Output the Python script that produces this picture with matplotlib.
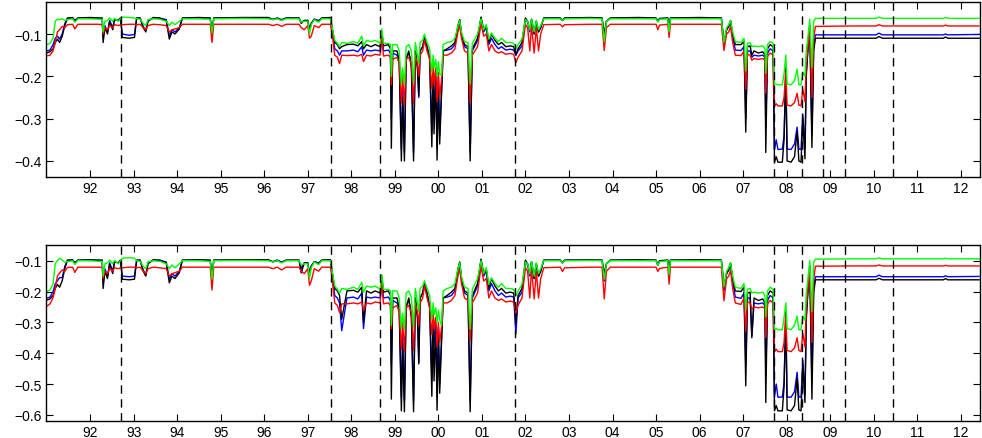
import matplotlib
matplotlib.use('Agg')
import matplotlib.pyplot as plt
import numpy as np

plt.rcParams['font.family'] = ['Liberation Sans', 'DejaVu Sans']

# time axis (decimal years), shared by every series
dates = [
    1991.00, 1991.08, 1991.15, 1991.20, 1991.25, 1991.30, 1991.36, 1991.42, 1991.48, 1991.60, 1991.65, 1991.72,
    1992.00, 1992.20, 1992.28, 1992.30, 1992.34, 1992.40, 1992.45, 1992.52, 1992.56, 1992.65, 1992.70,
    1992.74, 1992.90, 1993.02, 1993.07,
    1993.15, 1993.22, 1993.28, 1993.33, 1993.45, 1993.60, 1993.75, 1993.82, 1993.88, 1993.95,
    1994.05, 1994.12, 1994.50, 1994.76, 1994.80, 1994.84,
    1995.50, 1996.10, 1996.20, 1996.30, 1996.40, 1996.50, 1996.80, 1996.85, 1996.92,
    1997.00, 1997.04, 1997.08, 1997.15, 1997.25, 1997.32, 1997.52,
    1997.56, 1997.62, 1997.68, 1997.73, 1997.78, 1997.90, 1998.05, 1998.15, 1998.24, 1998.28, 1998.35,
    1998.45, 1998.55, 1998.66, 1998.70, 1998.74, 1998.85,
    1998.90, 1998.92, 1998.95, 1999.05, 1999.10, 1999.15, 1999.18, 1999.22, 1999.26, 1999.32, 1999.38,
    1999.43, 1999.47, 1999.52, 1999.55, 1999.58, 1999.64, 1999.68, 1999.74, 1999.80, 1999.85, 1999.88,
    1999.90, 1999.94, 1999.97,
    2000.00, 2000.03, 2000.07, 2000.11, 2000.20, 2000.30, 2000.38, 2000.45, 2000.49, 2000.53, 2000.60,
    2000.68, 2000.73, 2000.78, 2000.90, 2000.98,
    2001.04, 2001.10, 2001.16, 2001.22, 2001.30, 2001.38, 2001.45, 2001.55, 2001.65, 2001.73, 2001.78,
    2001.83, 2001.92,
    2002.00, 2002.05, 2002.10, 2002.14, 2002.20, 2002.25, 2002.30, 2002.35, 2002.42,
    2002.80, 2002.85, 2002.90, 2003.50, 2003.76, 2003.81, 2003.86, 2003.95, 2004.60, 2005.00, 2005.04,
    2005.08, 2005.27, 2005.30, 2005.33, 2006.00, 2006.50,
    2006.56, 2006.62, 2006.67, 2006.71, 2006.76, 2006.82, 2006.95,
    2007.02, 2007.06, 2007.10, 2007.16, 2007.20, 2007.25, 2007.35, 2007.45, 2007.50, 2007.52, 2007.56,
    2007.62, 2007.69, 2007.72, 2007.76, 2007.80, 2007.90, 2007.94, 2007.98,
    2008.01, 2008.10, 2008.18, 2008.24, 2008.28, 2008.33, 2008.37, 2008.42, 2008.45, 2008.48, 2008.53,
    2008.58, 2008.62, 2008.66,
    2009.50, 2010.05, 2010.12, 2010.20, 2011.60, 2011.65, 2011.70, 2012.42,
]

# top panel
top_black = [
    -0.145, -0.142, -0.135, -0.120, -0.112, -0.120, -0.105, -0.080, -0.062, -0.061, -0.070, -0.062,
    -0.061, -0.062, -0.062, -0.120, -0.085, -0.100, -0.070, -0.090, -0.066, -0.068, -0.062,
    -0.108, -0.110, -0.108, -0.062,
    -0.062, -0.085, -0.095, -0.070, -0.061, -0.062, -0.068, -0.112, -0.095, -0.100,
    -0.088, -0.062, -0.061, -0.062, -0.105, -0.062,
    -0.061, -0.061, -0.066, -0.062, -0.067, -0.062, -0.062, -0.075, -0.068,
    -0.068, -0.090, -0.075, -0.065, -0.070, -0.062, -0.061,
    -0.085, -0.120, -0.125, -0.135, -0.130, -0.125, -0.124, -0.128, -0.118, -0.135, -0.125,
    -0.130, -0.125, -0.130, -0.095, -0.128, -0.125,
    -0.135, -0.370, -0.140, -0.140, -0.160, -0.400, -0.250, -0.400, -0.160, -0.140, -0.180,
    -0.400, -0.140, -0.180, -0.246, -0.140, -0.130, -0.110, -0.130, -0.160, -0.367, -0.180,
    -0.336, -0.200, -0.398,
    -0.220, -0.360, -0.250, -0.140, -0.135, -0.128, -0.120, -0.080, -0.066, -0.100, -0.125,
    -0.130, -0.400, -0.135, -0.110, -0.060,
    -0.090, -0.080, -0.120, -0.100, -0.115, -0.125, -0.120, -0.130, -0.128, -0.130, -0.150,
    -0.135, -0.120,
    -0.062, -0.070, -0.090, -0.065, -0.100, -0.070, -0.095, -0.085, -0.062,
    -0.062, -0.068, -0.062, -0.061, -0.062, -0.100, -0.070, -0.062, -0.061, -0.062, -0.070,
    -0.063, -0.062, -0.085, -0.062, -0.061, -0.062,
    -0.120, -0.090, -0.080, -0.068, -0.100, -0.125, -0.125,
    -0.118, -0.332, -0.130, -0.128, -0.150, -0.140, -0.145, -0.142, -0.150, -0.380, -0.135,
    -0.125, -0.130, -0.403, -0.390, -0.403, -0.403, -0.350, -0.180,
    -0.400, -0.403, -0.390, -0.330, -0.400, -0.403, -0.300, -0.395, -0.200, -0.150, -0.080,
    -0.368, -0.140, -0.110,
    -0.110, -0.110, -0.106, -0.110, -0.110, -0.107, -0.110, -0.110,
]
top_blue = [
    -0.140, -0.138, -0.125, -0.110, -0.105, -0.112, -0.100, -0.075, -0.064, -0.063, -0.067, -0.063,
    -0.063, -0.063, -0.064, -0.110, -0.080, -0.095, -0.068, -0.085, -0.066, -0.068, -0.063,
    -0.100, -0.103, -0.101, -0.063,
    -0.063, -0.082, -0.092, -0.068, -0.063, -0.063, -0.066, -0.105, -0.090, -0.095,
    -0.085, -0.063, -0.063, -0.063, -0.100, -0.063,
    -0.062, -0.063, -0.065, -0.063, -0.066, -0.063, -0.063, -0.072, -0.068,
    -0.068, -0.090, -0.075, -0.065, -0.068, -0.063, -0.063,
    -0.090, -0.135, -0.140, -0.150, -0.140, -0.140, -0.138, -0.142, -0.130, -0.150, -0.138,
    -0.140, -0.138, -0.140, -0.100, -0.140, -0.138,
    -0.145, -0.300, -0.145, -0.150, -0.160, -0.372, -0.230, -0.380, -0.155, -0.145, -0.170,
    -0.380, -0.140, -0.180, -0.250, -0.140, -0.130, -0.108, -0.130, -0.155, -0.330, -0.170,
    -0.300, -0.190, -0.370,
    -0.200, -0.340, -0.240, -0.140, -0.138, -0.135, -0.125, -0.085, -0.068, -0.100, -0.130,
    -0.135, -0.380, -0.140, -0.115, -0.062,
    -0.095, -0.085, -0.125, -0.110, -0.125, -0.135, -0.130, -0.138, -0.136, -0.138, -0.150,
    -0.140, -0.128,
    -0.064, -0.072, -0.095, -0.066, -0.100, -0.070, -0.095, -0.085, -0.063,
    -0.063, -0.068, -0.063, -0.063, -0.063, -0.105, -0.070, -0.063, -0.063, -0.063, -0.070,
    -0.064, -0.063, -0.088, -0.063, -0.063, -0.063,
    -0.125, -0.090, -0.082, -0.070, -0.105, -0.138, -0.139,
    -0.130, -0.300, -0.140, -0.140, -0.155, -0.150, -0.152, -0.150, -0.155, -0.320, -0.145,
    -0.135, -0.140, -0.373, -0.350, -0.373, -0.372, -0.340, -0.200,
    -0.372, -0.373, -0.360, -0.320, -0.372, -0.373, -0.290, -0.370, -0.190, -0.145, -0.080,
    -0.340, -0.130, -0.102,
    -0.102, -0.102, -0.098, -0.102, -0.102, -0.100, -0.102, -0.101,
]
top_red = [
    -0.152, -0.150, -0.140, -0.120, -0.095, -0.090, -0.082, -0.085, -0.078, -0.077, -0.088, -0.077,
    -0.077, -0.077, -0.078, -0.100, -0.085, -0.090, -0.080, -0.085, -0.078, -0.080, -0.078,
    -0.078, -0.077, -0.077, -0.078,
    -0.077, -0.085, -0.090, -0.080, -0.077, -0.078, -0.080, -0.095, -0.090, -0.088,
    -0.085, -0.077, -0.077, -0.077, -0.120, -0.077,
    -0.077, -0.077, -0.080, -0.077, -0.082, -0.077, -0.077, -0.085, -0.090,
    -0.080, -0.110, -0.105, -0.080, -0.085, -0.077, -0.077,
    -0.100, -0.150, -0.155, -0.170, -0.150, -0.151, -0.150, -0.152, -0.148, -0.165, -0.150,
    -0.152, -0.148, -0.150, -0.110, -0.152, -0.150,
    -0.155, -0.220, -0.160, -0.155, -0.170, -0.262, -0.200, -0.270, -0.160, -0.155, -0.170,
    -0.265, -0.150, -0.170, -0.200, -0.150, -0.140, -0.115, -0.140, -0.160, -0.230, -0.170,
    -0.220, -0.180, -0.260,
    -0.190, -0.250, -0.210, -0.150, -0.150, -0.145, -0.135, -0.095, -0.080, -0.110, -0.140,
    -0.145, -0.262, -0.150, -0.130, -0.075,
    -0.105, -0.100, -0.140, -0.125, -0.140, -0.145, -0.142, -0.148, -0.146, -0.148, -0.168,
    -0.155, -0.140,
    -0.078, -0.085, -0.140, -0.080, -0.145, -0.085, -0.140, -0.100, -0.078,
    -0.077, -0.083, -0.078, -0.077, -0.077, -0.139, -0.085, -0.077, -0.077, -0.077, -0.090,
    -0.079, -0.077, -0.108, -0.077, -0.077, -0.077,
    -0.139, -0.100, -0.095, -0.082, -0.120, -0.150, -0.151,
    -0.140, -0.230, -0.148, -0.150, -0.162, -0.158, -0.160, -0.158, -0.162, -0.240, -0.152,
    -0.145, -0.150, -0.270, -0.265, -0.270, -0.270, -0.250, -0.190,
    -0.268, -0.270, -0.262, -0.240, -0.268, -0.270, -0.230, -0.260, -0.170, -0.140, -0.085,
    -0.250, -0.110, -0.082,
    -0.081, -0.081, -0.078, -0.081, -0.081, -0.079, -0.081, -0.081,
]
top_green = [
    -0.125, -0.122, -0.110, -0.070, -0.065, -0.066, -0.064, -0.068, -0.066, -0.064, -0.072, -0.064,
    -0.064, -0.065, -0.065, -0.095, -0.070, -0.068, -0.062, -0.070, -0.063, -0.070, -0.064,
    -0.060, -0.061, -0.062, -0.064,
    -0.065, -0.075, -0.080, -0.066, -0.064, -0.065, -0.070, -0.080, -0.072, -0.078,
    -0.070, -0.064, -0.064, -0.065, -0.098, -0.064,
    -0.063, -0.064, -0.066, -0.064, -0.068, -0.064, -0.064, -0.072, -0.070,
    -0.070, -0.100, -0.078, -0.066, -0.072, -0.064, -0.064,
    -0.085, -0.115, -0.122, -0.130, -0.120, -0.122, -0.118, -0.122, -0.105, -0.128, -0.115,
    -0.118, -0.115, -0.122, -0.088, -0.122, -0.122,
    -0.125, -0.200, -0.125, -0.125, -0.140, -0.218, -0.180, -0.220, -0.130, -0.125, -0.140,
    -0.215, -0.120, -0.150, -0.170, -0.120, -0.115, -0.100, -0.120, -0.135, -0.190, -0.150,
    -0.180, -0.160, -0.200,
    -0.165, -0.195, -0.198, -0.125, -0.120, -0.118, -0.110, -0.080, -0.068, -0.095, -0.118,
    -0.120, -0.218, -0.122, -0.100, -0.064,
    -0.090, -0.078, -0.112, -0.098, -0.110, -0.118, -0.110, -0.120, -0.120, -0.122, -0.135,
    -0.125, -0.112,
    -0.066, -0.070, -0.090, -0.065, -0.095, -0.068, -0.090, -0.080, -0.064,
    -0.064, -0.068, -0.064, -0.063, -0.064, -0.118, -0.070, -0.064, -0.064, -0.064, -0.072,
    -0.065, -0.064, -0.095, -0.064, -0.064, -0.064,
    -0.120, -0.085, -0.078, -0.068, -0.095, -0.118, -0.120,
    -0.110, -0.187, -0.122, -0.120, -0.130, -0.128, -0.130, -0.128, -0.135, -0.193, -0.125,
    -0.118, -0.122, -0.220, -0.218, -0.220, -0.220, -0.194, -0.150,
    -0.218, -0.220, -0.210, -0.183, -0.220, -0.220, -0.190, -0.200, -0.140, -0.115, -0.065,
    -0.180, -0.070, -0.063,
    -0.063, -0.063, -0.060, -0.063, -0.063, -0.061, -0.063, -0.063,
]

# bottom panel
bot_black = [
    -0.228, -0.224, -0.213, -0.190, -0.177, -0.186, -0.165, -0.125, -0.098, -0.097, -0.110, -0.098,
    -0.097, -0.098, -0.098, -0.190, -0.134, -0.158, -0.110, -0.142, -0.104, -0.107, -0.098,
    -0.160, -0.162, -0.160, -0.098,
    -0.098, -0.134, -0.150, -0.110, -0.097, -0.098, -0.107, -0.172, -0.150, -0.158,
    -0.139, -0.098, -0.097, -0.098, -0.160, -0.098,
    -0.097, -0.097, -0.104, -0.098, -0.106, -0.098, -0.098, -0.140, -0.107,
    -0.107, -0.142, -0.118, -0.103, -0.110, -0.098, -0.097,
    -0.134, -0.190, -0.198, -0.213, -0.290, -0.198, -0.196, -0.202, -0.186, -0.300, -0.198,
    -0.205, -0.198, -0.205, -0.150, -0.202, -0.198,
    -0.213, -0.549, -0.221, -0.221, -0.253, -0.587, -0.370, -0.590, -0.253, -0.221, -0.284,
    -0.590, -0.221, -0.284, -0.435, -0.221, -0.205, -0.174, -0.205, -0.253, -0.540, -0.284,
    -0.490, -0.316, -0.585,
    -0.340, -0.530, -0.380, -0.221, -0.213, -0.202, -0.190, -0.126, -0.104, -0.158, -0.198,
    -0.205, -0.590, -0.213, -0.174, -0.095,
    -0.142, -0.126, -0.190, -0.158, -0.182, -0.198, -0.190, -0.205, -0.202, -0.205, -0.300,
    -0.213, -0.190,
    -0.098, -0.110, -0.142, -0.103, -0.158, -0.110, -0.150, -0.134, -0.098,
    -0.098, -0.107, -0.098, -0.097, -0.098, -0.140, -0.110, -0.098, -0.097, -0.098, -0.115,
    -0.100, -0.098, -0.134, -0.098, -0.097, -0.098,
    -0.180, -0.142, -0.126, -0.107, -0.158, -0.198, -0.200,
    -0.186, -0.506, -0.205, -0.202, -0.350, -0.221, -0.229, -0.224, -0.237, -0.560, -0.213,
    -0.198, -0.205, -0.587, -0.570, -0.587, -0.587, -0.510, -0.263,
    -0.584, -0.587, -0.570, -0.482, -0.584, -0.587, -0.438, -0.560, -0.292, -0.219, -0.117,
    -0.549, -0.204, -0.162,
    -0.162, -0.162, -0.157, -0.162, -0.162, -0.158, -0.162, -0.162,
]
bot_blue = [
    -0.222, -0.218, -0.200, -0.175, -0.165, -0.155, -0.155, -0.118, -0.100, -0.099, -0.105, -0.099,
    -0.099, -0.099, -0.100, -0.175, -0.126, -0.150, -0.107, -0.134, -0.104, -0.107, -0.099,
    -0.150, -0.152, -0.150, -0.099,
    -0.099, -0.130, -0.145, -0.107, -0.099, -0.099, -0.104, -0.160, -0.142, -0.150,
    -0.134, -0.099, -0.099, -0.099, -0.158, -0.099,
    -0.098, -0.099, -0.103, -0.099, -0.104, -0.099, -0.099, -0.125, -0.107,
    -0.107, -0.142, -0.118, -0.103, -0.107, -0.099, -0.099,
    -0.142, -0.213, -0.221, -0.237, -0.327, -0.221, -0.218, -0.224, -0.205, -0.320, -0.218,
    -0.221, -0.218, -0.221, -0.158, -0.221, -0.218,
    -0.229, -0.440, -0.229, -0.237, -0.253, -0.543, -0.340, -0.555, -0.245, -0.229, -0.268,
    -0.555, -0.221, -0.284, -0.430, -0.221, -0.205, -0.170, -0.205, -0.245, -0.480, -0.268,
    -0.376, -0.300, -0.540,
    -0.316, -0.500, -0.360, -0.221, -0.218, -0.213, -0.198, -0.134, -0.107, -0.158, -0.205,
    -0.213, -0.555, -0.221, -0.182, -0.098,
    -0.150, -0.134, -0.198, -0.174, -0.198, -0.213, -0.205, -0.218, -0.215, -0.218, -0.338,
    -0.221, -0.202,
    -0.101, -0.114, -0.150, -0.104, -0.158, -0.110, -0.150, -0.134, -0.099,
    -0.099, -0.107, -0.099, -0.099, -0.099, -0.166, -0.110, -0.099, -0.099, -0.099, -0.115,
    -0.101, -0.099, -0.139, -0.099, -0.099, -0.099,
    -0.198, -0.142, -0.130, -0.110, -0.166, -0.218, -0.222,
    -0.205, -0.440, -0.221, -0.221, -0.343, -0.237, -0.240, -0.237, -0.245, -0.470, -0.229,
    -0.213, -0.221, -0.543, -0.500, -0.543, -0.542, -0.495, -0.290,
    -0.542, -0.543, -0.525, -0.462, -0.542, -0.543, -0.423, -0.535, -0.277, -0.212, -0.117,
    -0.496, -0.190, -0.152,
    -0.152, -0.152, -0.147, -0.152, -0.152, -0.149, -0.152, -0.151,
]
bot_red = [
    -0.248, -0.240, -0.220, -0.190, -0.150, -0.140, -0.130, -0.135, -0.122, -0.121, -0.138, -0.121,
    -0.121, -0.121, -0.122, -0.158, -0.134, -0.142, -0.126, -0.134, -0.123, -0.126, -0.123,
    -0.123, -0.121, -0.121, -0.123,
    -0.121, -0.134, -0.142, -0.126, -0.121, -0.123, -0.126, -0.150, -0.142, -0.139,
    -0.134, -0.121, -0.121, -0.121, -0.195, -0.121,
    -0.121, -0.121, -0.126, -0.121, -0.130, -0.121, -0.121, -0.134, -0.142,
    -0.126, -0.180, -0.166, -0.126, -0.134, -0.121, -0.121,
    -0.158, -0.237, -0.245, -0.268, -0.240, -0.240, -0.237, -0.240, -0.234, -0.262, -0.237,
    -0.240, -0.234, -0.237, -0.174, -0.240, -0.237,
    -0.245, -0.320, -0.253, -0.245, -0.268, -0.387, -0.300, -0.395, -0.253, -0.245, -0.268,
    -0.390, -0.237, -0.268, -0.310, -0.237, -0.221, -0.182, -0.221, -0.253, -0.340, -0.268,
    -0.320, -0.284, -0.380,
    -0.300, -0.365, -0.320, -0.237, -0.237, -0.229, -0.213, -0.150, -0.126, -0.174, -0.221,
    -0.229, -0.360, -0.237, -0.205, -0.118,
    -0.166, -0.158, -0.221, -0.198, -0.221, -0.229, -0.224, -0.234, -0.231, -0.234, -0.270,
    -0.245, -0.221,
    -0.123, -0.134, -0.221, -0.126, -0.224, -0.134, -0.221, -0.158, -0.123,
    -0.121, -0.135, -0.123, -0.121, -0.121, -0.224, -0.134, -0.121, -0.121, -0.121, -0.135,
    -0.125, -0.121, -0.176, -0.121, -0.121, -0.121,
    -0.230, -0.158, -0.150, -0.130, -0.190, -0.237, -0.242,
    -0.221, -0.330, -0.234, -0.237, -0.256, -0.250, -0.253, -0.250, -0.256, -0.350, -0.240,
    -0.229, -0.237, -0.395, -0.387, -0.395, -0.395, -0.365, -0.277,
    -0.391, -0.395, -0.383, -0.350, -0.391, -0.395, -0.336, -0.380, -0.248, -0.204, -0.124,
    -0.365, -0.160, -0.118,
    -0.117, -0.117, -0.114, -0.117, -0.117, -0.115, -0.117, -0.117,
]
bot_green = [
    -0.200, -0.195, -0.175, -0.110, -0.100, -0.092, -0.098, -0.105, -0.103, -0.100, -0.112, -0.100,
    -0.100, -0.102, -0.102, -0.150, -0.110, -0.107, -0.098, -0.110, -0.099, -0.110, -0.100,
    -0.092, -0.090, -0.092, -0.100,
    -0.102, -0.118, -0.126, -0.104, -0.100, -0.102, -0.110, -0.126, -0.114, -0.123,
    -0.110, -0.100, -0.100, -0.102, -0.160, -0.100,
    -0.099, -0.100, -0.104, -0.100, -0.107, -0.100, -0.100, -0.113, -0.110,
    -0.110, -0.158, -0.123, -0.104, -0.113, -0.100, -0.100,
    -0.134, -0.182, -0.193, -0.205, -0.190, -0.193, -0.186, -0.193, -0.170, -0.202, -0.182,
    -0.186, -0.182, -0.193, -0.145, -0.193, -0.193,
    -0.198, -0.310, -0.198, -0.198, -0.221, -0.320, -0.270, -0.322, -0.205, -0.198, -0.221,
    -0.315, -0.190, -0.237, -0.265, -0.190, -0.182, -0.165, -0.190, -0.213, -0.290, -0.237,
    -0.275, -0.253, -0.300,
    -0.260, -0.290, -0.311, -0.198, -0.190, -0.186, -0.174, -0.126, -0.107, -0.150, -0.186,
    -0.190, -0.322, -0.193, -0.158, -0.100,
    -0.142, -0.123, -0.177, -0.155, -0.174, -0.186, -0.174, -0.190, -0.190, -0.193, -0.213,
    -0.198, -0.177,
    -0.104, -0.110, -0.142, -0.103, -0.150, -0.107, -0.142, -0.126, -0.100,
    -0.100, -0.107, -0.100, -0.099, -0.100, -0.160, -0.110, -0.100, -0.100, -0.100, -0.115,
    -0.103, -0.100, -0.145, -0.100, -0.100, -0.100,
    -0.185, -0.134, -0.123, -0.107, -0.150, -0.186, -0.190,
    -0.174, -0.257, -0.193, -0.190, -0.205, -0.202, -0.205, -0.202, -0.213, -0.282, -0.198,
    -0.186, -0.193, -0.324, -0.320, -0.324, -0.324, -0.285, -0.237,
    -0.320, -0.324, -0.309, -0.280, -0.324, -0.324, -0.280, -0.294, -0.206, -0.169, -0.100,
    -0.265, -0.105, -0.095,
    -0.094, -0.094, -0.091, -0.094, -0.094, -0.092, -0.094, -0.094,
]

# dashed event markers
events = [1992.71, 1997.54, 1998.67, 2001.75, 2007.71, 2008.35, 2008.83, 2009.33, 2010.45]

years = list(range(1992, 2013))
year_labels = ['%02d' % (y % 100) for y in years]

fig = plt.figure(figsize=(9.82, 4.39), dpi=100)
ax1 = fig.add_axes([0.0465, 0.5945, 0.951, 0.399])
ax2 = fig.add_axes([0.0465, 0.0387, 0.951, 0.401])

# drawing order: blue under black, then red and green on top
panels = [
    (ax1, [top_blue, top_black, top_red, top_green], (-0.438, -0.024), [-0.4, -0.3, -0.2, -0.1]),
    (ax2, [bot_blue, bot_black, bot_red, bot_green], (-0.62, -0.049), [-0.6, -0.5, -0.4, -0.3, -0.2, -0.1]),
]
colors = ['b', 'k', 'r', '#00ff00']

for ax, series, ylim, yticks in panels:
    for vals, c in zip(series, colors):
        ax.plot(dates, vals, color=c, lw=1.0)
    for e in events:
        ax.axvline(e, color='k', lw=1.0, linestyle=(0, (6, 4)))
    ax.set_xlim(1990.98, 2012.43)
    ax.set_ylim(*ylim)
    ax.set_xticks(years)
    ax.set_xticklabels(year_labels)
    ax.set_yticks(yticks)
    ax.set_yticklabels(['\u2212%.1f' % abs(t) for t in yticks])
    ax.tick_params(direction='in', top=True, right=True, length=5, labelsize=10, pad=3)
    for s in ax.spines.values():
        s.set_linewidth(1.0)

fig.savefig('out.png', dpi=100)
